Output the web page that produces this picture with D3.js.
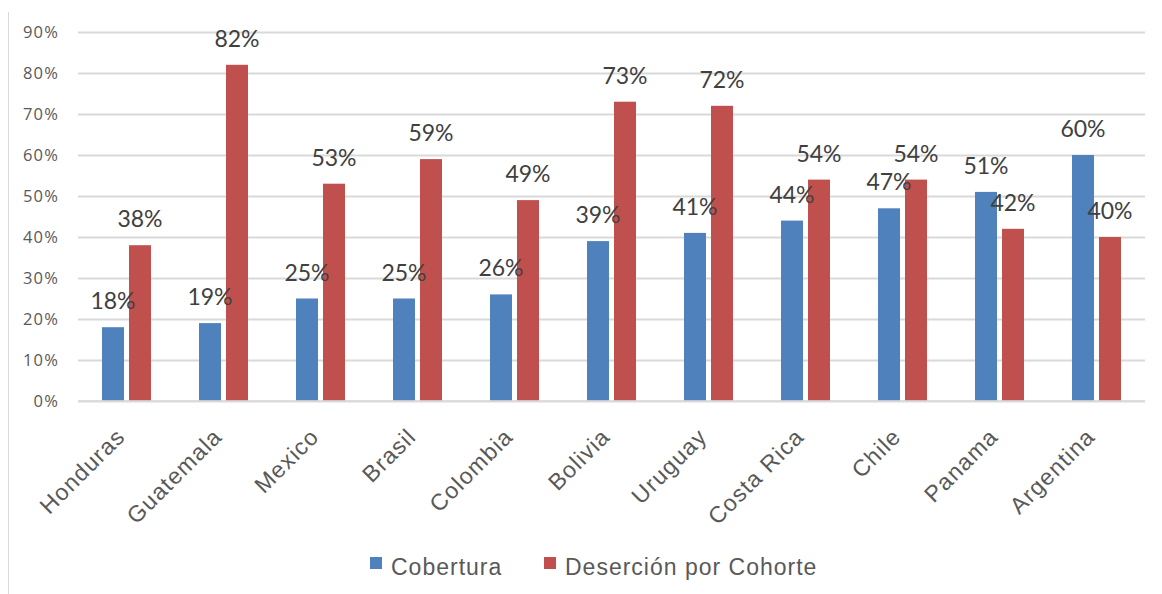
<!DOCTYPE html>
<html>
<head>
<meta charset="utf-8">
<script src="https://cdn.jsdelivr.net/npm/d3@7"></script>
<style>
  body { margin: 0; background: #fff; }
  svg { display: block; }
</style>
</head>
<body>
<svg id="chart" width="1162" height="594"></svg>
<script>
const categories = ["Honduras", "Guatemala", "Mexico", "Brasil", "Colombia", "Bolivia", "Uruguay", "Costa Rica", "Chile", "Panama", "Argentina"];
const seriesNames = ["Cobertura", "Deserción por Cohorte"];
const cobertura = [0.18, 0.19, 0.25, 0.25, 0.26, 0.39, 0.41, 0.44, 0.47, 0.51, 0.60];
const desercion = [0.38, 0.82, 0.53, 0.59, 0.49, 0.73, 0.72, 0.54, 0.54, 0.42, 0.40];
const yTicks = [0, 0.1, 0.2, 0.3, 0.4, 0.5, 0.6, 0.7, 0.8, 0.9];
const colors = ["#4F81BD", "#C0504D"];

const svg = d3.select("#chart");

// left border line of the chart frame
svg.append("line").attr("x1", 8.5).attr("x2", 8.5).attr("y1", 12).attr("y2", 594)
  .attr("stroke", "#D9D9D9").attr("stroke-width", 1);

const x0 = d3.scaleBand().domain(categories).range([78, 1145]).paddingInner(0).paddingOuter(0);
const x1 = d3.scaleBand().domain(seriesNames).range([24, 73]).paddingInner(0.185).paddingOuter(0);
const y = d3.scaleLinear().domain([0, 0.9]).range([401, 32]);

// gridlines
const yAxis = d3.axisLeft(y).tickValues(yTicks).tickSize(-(1145 - 78)).tickFormat(d => Math.round(d * 100) + "%").tickPadding(19);
const gy = svg.append("g").attr("transform", "translate(78,0)").call(yAxis);
gy.select(".domain").remove();
gy.selectAll(".tick line").attr("stroke", "#D9D9D9").attr("stroke-width", 2);
gy.selectAll(".tick text").attr("fill", "#595959").attr("font-family", "'Open Sans', sans-serif")
  .attr("font-size", 16.5).attr("letter-spacing", 1.2).attr("dy", "0.36em");

const data = categories.map((c, i) => ({ cat: c, vals: [
  { s: seriesNames[0], v: cobertura[i], k: 0 },
  { s: seriesNames[1], v: desercion[i], k: 1 }
]}));

const groups = svg.append("g").selectAll("g").data(data).join("g")
  .attr("transform", d => `translate(${x0(d.cat)},0)`);

groups.selectAll("rect").data(d => d.vals).join("rect")
  .attr("x", d => x1(d.s))
  .attr("width", x1.bandwidth())
  .attr("y", d => y(d.v))
  .attr("height", d => y(0) - y(d.v))
  .attr("fill", d => colors[d.k]);

// zero line over bars
svg.append("line").attr("x1", 78).attr("x2", 1145).attr("y1", y(0)).attr("y2", y(0))
  .attr("stroke", "#D9D9D9").attr("stroke-width", 2).attr("stroke-opacity", 0.8);

// data labels
groups.selectAll("text.lbl").data(d => d.vals).join("text")
  .attr("class", "lbl")
  .attr("x", d => x1(d.s) + x1.bandwidth() / 2)
  .attr("y", d => y(d.v) - 18)
  .attr("text-anchor", "middle")
  .attr("font-family", "Lato, sans-serif")
  .attr("font-size", 23)
  .attr("fill", "#404040")
  .text(d => Math.round(d.v * 100) + "%");

// x labels
svg.append("g").selectAll("text").data(categories).join("text")
  .attr("transform", d => `translate(${x0(d) + x0.bandwidth() / 2 + 0},438) rotate(-45)`)
  .attr("text-anchor", "end")
  .attr("font-family", "'Liberation Sans', Arial, sans-serif")
  .attr("font-size", 23)
  .attr("letter-spacing", 1.2)
  .attr("fill", "#595959")
  .text(d => d);

// legend
const legendItems = [
  { name: seriesNames[0], sx: 370, tx: 391 },
  { name: seriesNames[1], sx: 544, tx: 565 }
];
const lg = svg.append("g").selectAll("g").data(legendItems).join("g");
lg.append("rect").attr("x", d => d.sx).attr("y", 557).attr("width", 12).attr("height", 12)
  .attr("fill", (d, i) => colors[i]);
lg.append("text").attr("x", d => d.tx).attr("y", 575)
  .attr("font-family", "'Liberation Sans', Arial, sans-serif")
  .attr("font-size", 23)
  .attr("letter-spacing", 1)
  .attr("fill", "#595959")
  .text(d => d.name);
</script>
</body>
</html>
